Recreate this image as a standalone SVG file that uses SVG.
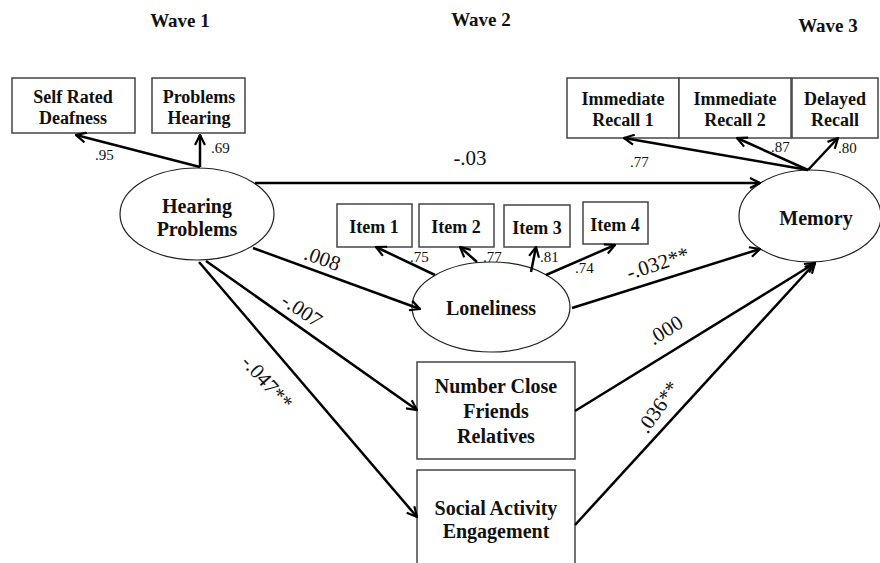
<svg xmlns="http://www.w3.org/2000/svg" width="880" height="563" viewBox="0 0 880 563">
<defs>
<marker id="arr" viewBox="0 0 12 12" refX="11" refY="6" markerWidth="12" markerHeight="12" markerUnits="userSpaceOnUse" orient="auto">
<path d="M1,1 L11,6 L1,11" fill="none" stroke="#000" stroke-width="2.2"/>
</marker>
</defs>
<style>
.t{font-family:"Liberation Serif","Times New Roman",serif;fill:#111}
.b{font-weight:bold;text-anchor:middle}
.s18{font-size:18px}
.s20{font-size:20px}
.w{font-size:19px}
.c{font-size:21px;text-anchor:middle}
.l{font-size:15px}
.box{fill:#fff;stroke:#444;stroke-width:1.5}
.ell{fill:#fff;stroke:#222;stroke-width:1.2}
.e{stroke:#000;stroke-width:2.5;fill:none;marker-end:url(#arr)}
</style>
<rect width="880" height="563" fill="#fff"/>
<g id="waves" class="t b w">
<text x="180" y="27">Wave 1</text>
<text x="481" y="26">Wave 2</text>
<text x="828" y="32">Wave 3</text>
</g>
<g id="selfRated">
<rect class="box" x="12" y="78" width="123" height="55"/>
<text class="t b s18" x="73" y="103">Self Rated</text>
<text class="t b s18" x="73" y="124">Deafness</text>
</g>
<g id="problemsHearing">
<rect class="box" x="152" y="78" width="93" height="55"/>
<text class="t b s18" x="199" y="103">Problems</text>
<text class="t b s18" x="199" y="124">Hearing</text>
</g>
<g id="immediate1">
<rect class="box" x="567" y="78" width="112" height="60"/>
<text class="t b s18" x="623" y="105">Immediate</text>
<text class="t b s18" x="623" y="126">Recall 1</text>
</g>
<g id="immediate2">
<rect class="box" x="679" y="78" width="112" height="60"/>
<text class="t b s18" x="735" y="105">Immediate</text>
<text class="t b s18" x="735" y="126">Recall 2</text>
</g>
<g id="delayed">
<rect class="box" x="792" y="78" width="86" height="60"/>
<text class="t b s18" x="835" y="105">Delayed</text>
<text class="t b s18" x="835" y="126">Recall</text>
</g>
<g id="hearingProblems">
<ellipse class="ell" cx="197" cy="214" rx="77" ry="46"/>
<text class="t b s20" x="197" y="213">Hearing</text>
<text class="t b s20" x="197" y="236">Problems</text>
</g>
<g id="memory">
<ellipse class="ell" cx="810" cy="216" rx="71" ry="46"/>
<text class="t b s20" x="816" y="225">Memory</text>
</g>
<g id="item1">
<rect class="box" x="337" y="204" width="75" height="43"/>
<text class="t b s18" x="374" y="233">Item 1</text>
</g>
<g id="item2">
<rect class="box" x="419" y="204" width="75" height="43"/>
<text class="t b s18" x="456" y="233">Item 2</text>
</g>
<g id="item3">
<rect class="box" x="504" y="205" width="66" height="42"/>
<text class="t b s18" x="537" y="234">Item 3</text>
</g>
<g id="item4">
<rect class="box" x="583" y="202" width="65" height="42"/>
<text class="t b s18" x="615" y="231">Item 4</text>
</g>
<g id="loneliness">
<ellipse class="ell" cx="491" cy="307" rx="79" ry="45"/>
<text class="t b s20" x="491" y="315">Loneliness</text>
</g>
<g id="friends">
<rect class="box" x="417" y="362" width="158" height="97"/>
<text class="t b s20" x="496" y="393">Number Close</text>
<text class="t b s20" x="496" y="418">Friends</text>
<text class="t b s20" x="496" y="443">Relatives</text>
</g>
<g id="social">
<rect class="box" x="417" y="470" width="158" height="110"/>
<text class="t b s20" x="496" y="515">Social Activity</text>
<text class="t b s20" x="496" y="538">Engagement</text>
</g>
<g id="connectors">
<line class="e" x1="200" y1="167" x2="76" y2="135"/>
<line class="e" x1="200" y1="167" x2="200" y2="135"/>
<line class="e" x1="808" y1="170" x2="624" y2="138"/>
<line class="e" x1="808" y1="170" x2="737" y2="138"/>
<line class="e" x1="808" y1="170" x2="838" y2="138"/>
<line class="e" x1="255" y1="183" x2="760" y2="183"/>
<line class="e" x1="435" y1="275" x2="376" y2="247"/>
<line class="e" x1="477" y1="262" x2="460" y2="247"/>
<line class="e" x1="531" y1="272" x2="536" y2="247"/>
<line class="e" x1="546" y1="275" x2="615" y2="245"/>
<line class="e" x1="253" y1="248" x2="420" y2="309"/>
<line class="e" x1="206" y1="261" x2="417" y2="410"/>
<line class="e" x1="199" y1="262" x2="417" y2="517"/>
<line class="e" x1="572" y1="308" x2="760" y2="249"/>
<line class="e" x1="575" y1="411" x2="815" y2="263"/>
<line class="e" x1="575" y1="525" x2="815" y2="263"/>
</g>
<g id="labels" class="t">
<text class="l" x="95" y="160">.95</text>
<text class="l" x="211" y="153">.69</text>
<text class="l" x="630" y="167">.77</text>
<text class="l" x="771" y="152">.87</text>
<text class="l" x="838" y="153">.80</text>
<text class="l" x="410" y="262">.75</text>
<text class="l" x="483" y="262">.77</text>
<text class="l" x="540" y="262">.81</text>
<text class="l" x="575" y="273">.74</text>
<text class="c" x="470" y="165">-.03</text>
<text class="c" transform="translate(320,265) rotate(20)" x="0" y="0">.008</text>
<text class="c" transform="translate(298,316) rotate(34)" x="0" y="0">-.007</text>
<text class="c" transform="translate(262,387) rotate(48)" x="0" y="0">-.047**</text>
<text class="c" transform="translate(660,270) rotate(-18)" x="0" y="0">-.032**</text>
<text class="c" transform="translate(669,336) rotate(-32)" x="0" y="0">.000</text>
<text class="c" transform="translate(664,411) rotate(-55)" x="0" y="0">.036**</text>
</g>
</svg>
